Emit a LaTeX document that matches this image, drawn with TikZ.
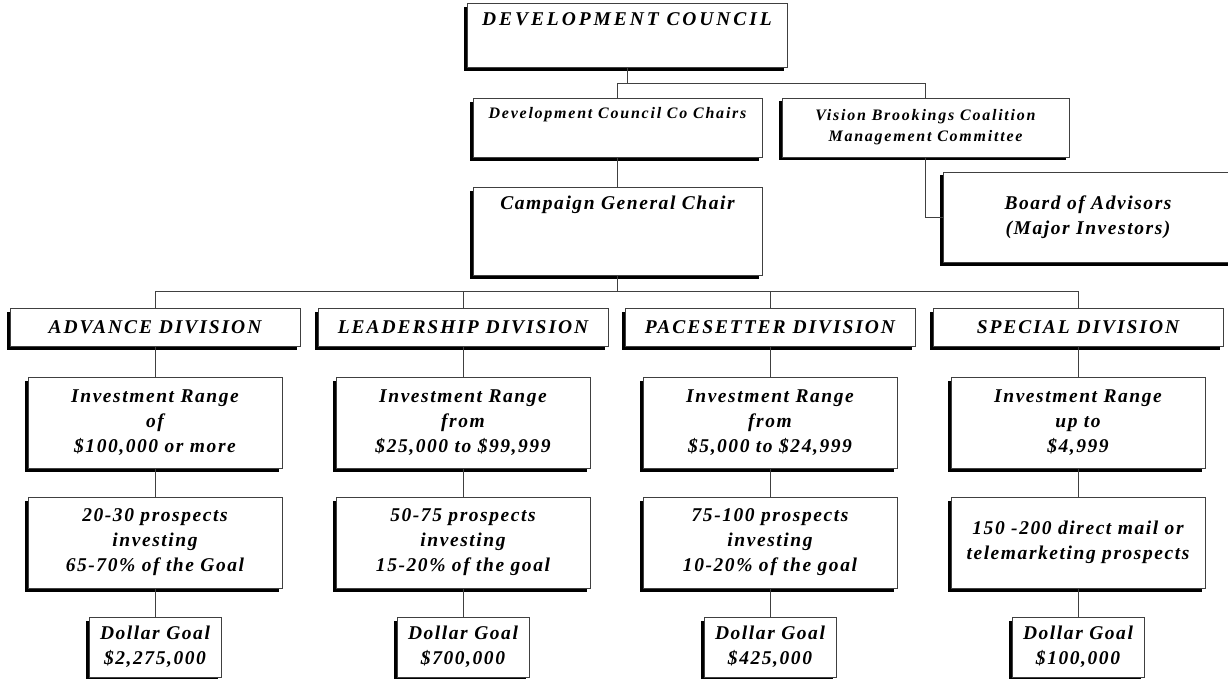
\documentclass[tikz,border=0pt]{standalone}
\usepackage{fontspec}
\setmainfont{Liberation Serif}
\newfontfamily\topfont[LetterSpace=15]{Liberation Serif}
\newfontfamily\headfont[LetterSpace=10]{Liberation Serif}
\newfontfamily\bodyfont[LetterSpace=8]{Liberation Serif}
\newfontfamily\smallfont[LetterSpace=11]{Liberation Serif}
\usepackage{tikz}
\usetikzlibrary{shadows}

\begin{document}
\begin{tikzpicture}[
        x=1pt, y=-1pt,
        every node/.style = {draw=black!75, fill=white, line width=0.7pt, inner sep=0pt, align=center,
          drop shadow={shadow xshift=-3.5pt, shadow yshift=-3.5pt, opacity=1, fill=black}},
        link/.style = {draw=black!75, line width=0.7pt},
        topbox/.style = {anchor=north, minimum width=320pt, text height=22pt, text depth=42pt,
          font=\topfont\bfseries\itshape\fontsize{19.5}{22}\selectfont},
        chairbox/.style = {minimum width=289pt, font=\smallfont\bfseries\itshape\fontsize{16}{21}\selectfont},
        bigbox/.style = {minimum width=289pt, font=\bodyfont\bfseries\itshape\fontsize{19.5}{25}\selectfont},
        divbox/.style = {minimum width=290pt, minimum height=38pt,
          font=\headfont\bfseries\itshape\fontsize{19.5}{22}\selectfont},
        rangebox/.style = {minimum width=254pt, minimum height=91pt,
          font=\bodyfont\bfseries\itshape\fontsize{19.5}{25}\selectfont},
        goalbox/.style = {minimum width=132pt, minimum height=60pt,
          font=\bodyfont\bfseries\itshape\fontsize{19.5}{25}\selectfont},
      ]
      \useasboundingbox (0,0) rectangle (1228,679);

      % council and chairs
      \node[topbox] (council) at (627,3) {DEVELOPMENT COUNCIL};
      \node[chairbox, anchor=north, text height=20pt, text depth=39pt] (cochairs) at (617.5,98)
        {Development Council Co Chairs};
      \node[chairbox, minimum width=287pt, minimum height=59pt] (vision) at (925.5,127.5)
        {Vision Brookings Coalition\\Management Committee};
      \node[bigbox, anchor=north, text height=22pt, text depth=66pt] (campaign) at (617.5,187)
        {Campaign General Chair};
      \node[bigbox, minimum width=290pt, minimum height=90pt] (board) at (1088,217)
        {Board of Advisors\\(Major Investors)};

      % divisions
      \node[divbox] (advdiv)  at (155,327)  {ADVANCE DIVISION};
      \node[divbox] (leaddiv) at (463,327)  {LEADERSHIP DIVISION};
      \node[divbox] (pacediv) at (770,327)  {PACESETTER DIVISION};
      \node[divbox] (specdiv) at (1078,327) {SPECIAL DIVISION};

      \node[rangebox] (advrange)  at (155,422.5)  {Investment Range\\of\\\$100,000 or more};
      \node[rangebox] (leadrange) at (463,422.5)  {Investment Range\\from\\\$25,000 to \$99,999};
      \node[rangebox] (pacerange) at (770,422.5)  {Investment Range\\from\\\$5,000 to \$24,999};
      \node[rangebox] (specrange) at (1078,422.5) {Investment Range\\up to\\\$4,999};

      \node[rangebox] (advprosp)  at (155,542.5)  {20-30 prospects\\investing\\65-70\% of the Goal};
      \node[rangebox] (leadprosp) at (463,542.5)  {50-75 prospects\\investing\\15-20\% of the goal};
      \node[rangebox] (paceprosp) at (770,542.5)  {75-100 prospects\\investing\\10-20\% of the goal};
      \node[rangebox] (specprosp) at (1078,542.5) {150 -200 direct mail or\\telemarketing prospects};

      \node[goalbox] (advgoal)  at (155,647)  {Dollar Goal\\\$2,275,000};
      \node[goalbox] (leadgoal) at (463,647)  {Dollar Goal\\\$700,000};
      \node[goalbox] (pacegoal) at (770,647)  {Dollar Goal\\\$425,000};
      \node[goalbox] (specgoal) at (1078,647) {Dollar Goal\\\$100,000};

      % connectors
      \draw[link] (council.south) -- ++(0,16) coordinate (top);
      \draw[link] (cochairs.north) |- (top) -| (vision.north);
      \draw[link] (cochairs) -- (campaign);
      \draw[link] (vision.south) |- (board.west);
      \draw[link] (campaign.south) -- ++(0,16) coordinate (mid);
      \draw[link] (advdiv.north) |- (mid) -| (specdiv.north);
      \draw[link] (leaddiv.north) -- (leaddiv.north |- mid);
      \draw[link] (pacediv.north) -- (pacediv.north |- mid);

      \draw[link] (advdiv) -- (advrange) -- (advprosp) -- (advgoal);
      \draw[link] (leaddiv) -- (leadrange) -- (leadprosp) -- (leadgoal);
      \draw[link] (pacediv) -- (pacerange) -- (paceprosp) -- (pacegoal);
      \draw[link] (specdiv) -- (specrange) -- (specprosp) -- (specgoal);

    \end{tikzpicture}
\end{document}
